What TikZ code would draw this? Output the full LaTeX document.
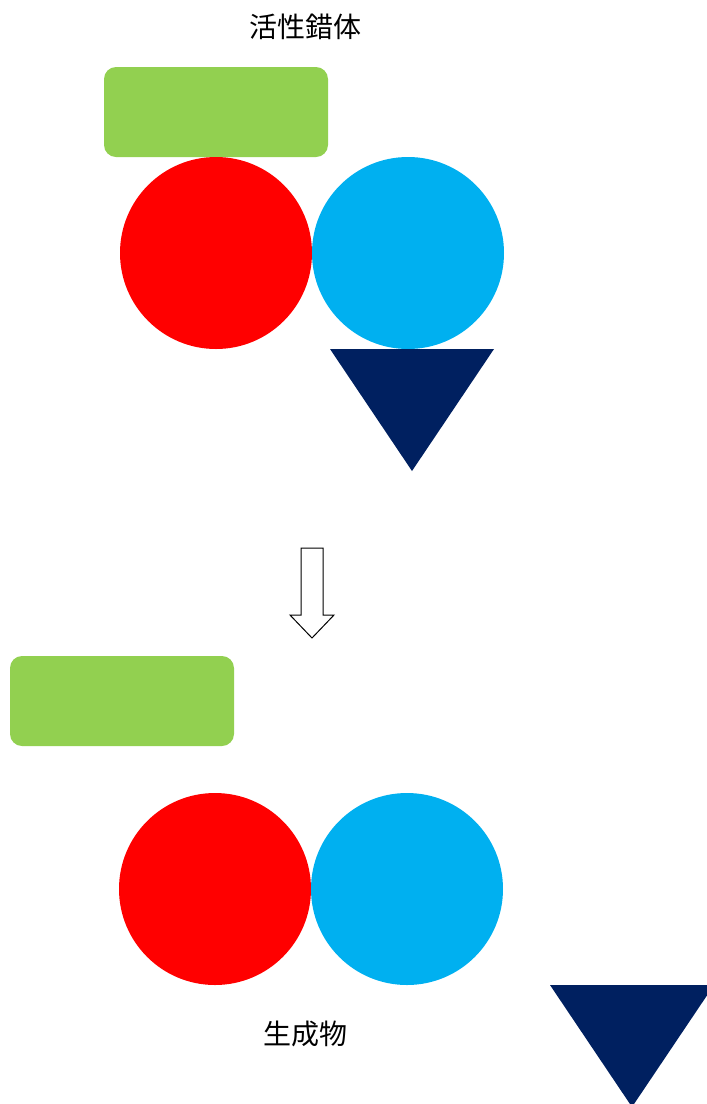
\documentclass[tikz,border=0pt]{standalone}
\usepackage{fontspec}
\newfontfamily\cjk{Noto Sans CJK JP}
\definecolor{lgreen}{HTML}{92D050}
\definecolor{bred}{HTML}{FF0000}
\definecolor{sky}{HTML}{00B0F0}
\definecolor{navy}{HTML}{002060}
\begin{document}
\begin{tikzpicture}[x=1pt,y=-1pt,
  ball/.style={circle,inner sep=0pt,minimum size=192pt},
  block/.style={rectangle,rounded corners=12pt,fill=lgreen,minimum width=224pt,minimum height=90pt,inner sep=0pt},
  label/.style={font=\cjk\fontsize{28}{28}\selectfont,inner sep=0pt}]
\useasboundingbox (0,0) rectangle (707,1104);
\clip (0,0) rectangle (707,1104);
\node[label] (t1) at (305,27) {活性錯体};
\node[block] (g1) at (216,112) {};
\node[ball,fill=bred] (r1) at (216,253) {};
\node[ball,fill=sky] (b1) at (408,253) {};
\fill[navy] (330,349) -- (494,349) -- (412,471) -- cycle;
\draw[line width=1pt,fill=white] (301,548) -- (323,548) -- (323,615) -- (334,615) -- (312,638) -- (290,615) -- (301,615) -- cycle;
\node[block] (g2) at (122,701) {};
\node[ball,fill=bred] (r2) at (215,889) {};
\node[ball,fill=sky] (b2) at (407,889) {};
\fill[navy] (550,985) -- (714,985) -- (632,1107) -- cycle;
\node[label] (t2) at (305,1034) {生成物};
\end{tikzpicture}
\end{document}
